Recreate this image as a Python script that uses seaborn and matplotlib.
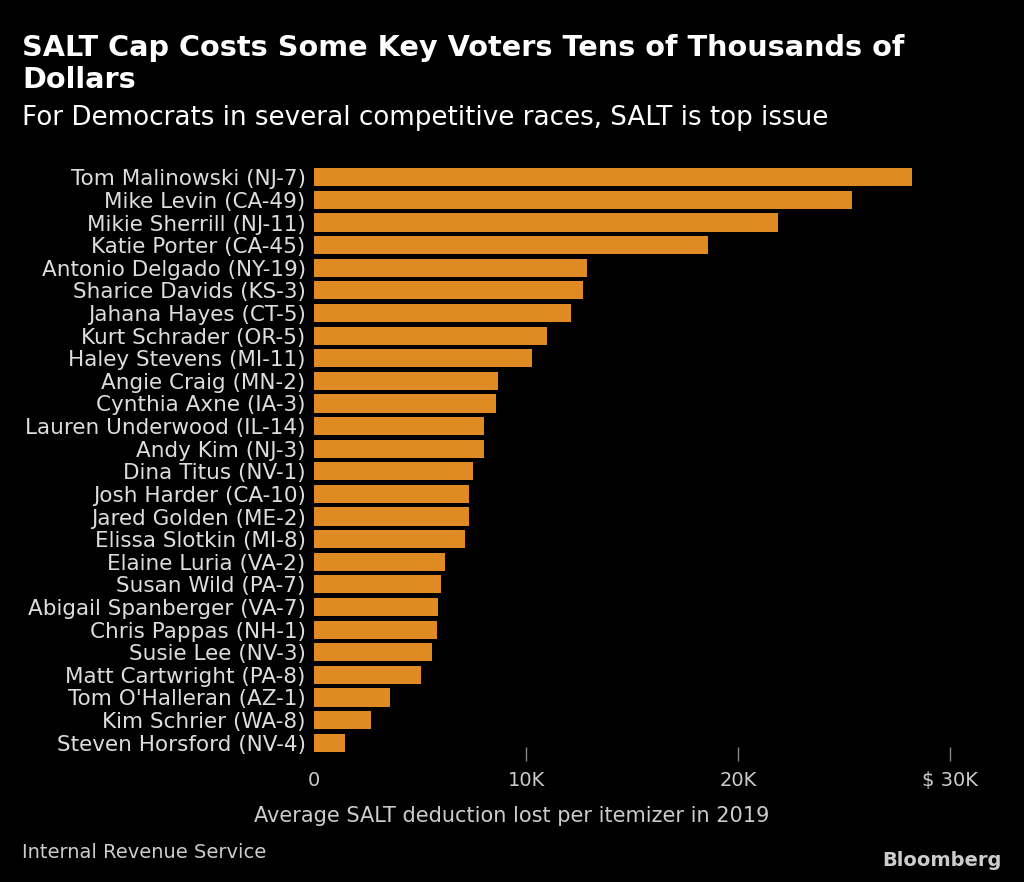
import matplotlib
matplotlib.use("Agg")
import matplotlib.pyplot as plt
import seaborn as sns
import pandas as pd

names = ["Tom Malinowski (NJ-7)","Mike Levin (CA-49)","Mikie Sherrill (NJ-11)","Katie Porter (CA-45)",
 "Antonio Delgado (NY-19)","Sharice Davids (KS-3)","Jahana Hayes (CT-5)","Kurt Schrader (OR-5)",
 "Haley Stevens (MI-11)","Angie Craig (MN-2)","Cynthia Axne (IA-3)","Lauren Underwood (IL-14)",
 "Andy Kim (NJ-3)","Dina Titus (NV-1)","Josh Harder (CA-10)","Jared Golden (ME-2)",
 "Elissa Slotkin (MI-8)","Elaine Luria (VA-2)","Susan Wild (PA-7)","Abigail Spanberger (VA-7)",
 "Chris Pappas (NH-1)","Susie Lee (NV-3)","Matt Cartwright (PA-8)","Tom O'Halleran (AZ-1)",
 "Kim Schrier (WA-8)","Steven Horsford (NV-4)"]
values = [28.2,25.4,21.9,18.6,12.9,12.7,12.1,11.0,10.3,8.7,8.6,8.0,8.0,7.5,7.3,7.3,7.1,6.2,6.0,5.85,5.8,5.55,5.05,3.6,2.7,1.45]
ticks = [0,10,20,30]
tick_labels = ["0","10K","20K","$ 30K"]

sns.set_style("dark")
plt.rcParams['font.family'] = ['DejaVu Sans']
df = pd.DataFrame({"name": names, "value": values})

fig = plt.figure(figsize=(10.24, 8.82), dpi=100, facecolor="black")
ax = fig.add_axes([314/1024, 1-754/882, (980-314)/1024, (754-166)/882])
ax.set_facecolor("black")
sns.barplot(data=df, x="value", y="name", color="#e08a24", saturation=1, width=0.8, linewidth=0, ax=ax)
ax.set_xlim(0, (980-314)/21.2)
ax.set_ylim(len(names)-0.5, -0.5)
for s in ax.spines.values():
    s.set_visible(False)
ax.grid(False)
ax.set_xticks(ticks)
ax.set_xticklabels(tick_labels, color="#cccccc", fontsize=14)
ax.tick_params(axis="x", bottom=True, colors="#888888", length=10, width=1, direction="inout",
               labelcolor="#cccccc", pad=7)
ax.xaxis.get_major_ticks()[0].tick1line.set_visible(False)
ax.tick_params(axis="y", length=0, labelcolor="#dddddd", labelsize=15.5, pad=6)
ax.set_ylabel("")
ax.set_xlabel("")
fig.text(512/1024, 1-816/882, "Average SALT deduction lost per itemizer in 2019",
         color="#cccccc", fontsize=15, ha="center", va="center")

fig.text(22/1024, 1-64/882, "SALT Cap Costs Some Key Voters Tens of Thousands of\nDollars",
         color="white", fontsize=20.7, fontweight="bold", va="center", linespacing=1.2)
fig.text(22/1024, 1-118/882, "For Democrats in several competitive races, SALT is top issue",
         color="white", fontsize=18.8, va="center")
fig.text(22/1024, 1-852/882, "Internal Revenue Service", color="#cccccc", fontsize=14, va="center")
fig.text(1002/1024, 1-860/882, "Bloomberg", color="#cccccc", fontsize=14, fontweight="bold", ha="right", va="center")
fig.savefig("out.png", dpi=100, facecolor="black")
